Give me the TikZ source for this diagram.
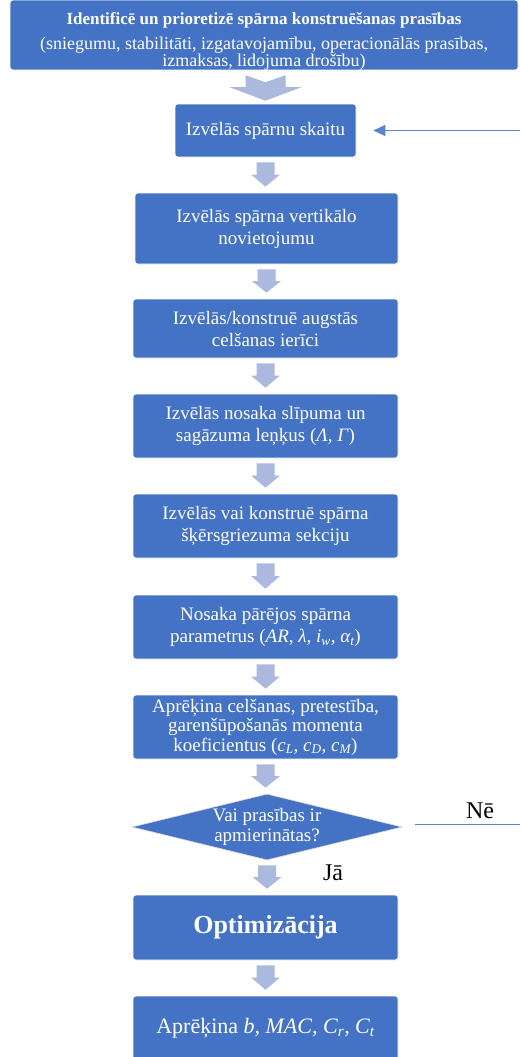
\documentclass[tikz,border=0pt]{standalone}
\usepackage{fontspec}
\setmainfont{Liberation Serif}
\usetikzlibrary{shapes.geometric,calc,arrows.meta}

\definecolor{boxblue}{HTML}{4472C4}
\definecolor{arrowblue}{HTML}{ABB9DE}
\definecolor{lineblue}{HTML}{5B84CC}

\tikzset{
  stepbox/.style={rectangle, rounded corners=3pt, fill=boxblue, draw=white,
    line width=0.6pt, text=white, align=center, inner sep=0pt,
    font=\fontsize{19}{22}\selectfont},
  decision/.style={diamond, fill=boxblue, draw=gray!30, line width=0.6pt, inner sep=0pt},
  dtext/.style={text=white, align=center, inner sep=0pt, font=\fontsize{19}{20}\selectfont},
  flowarrow/.style={fill=arrowblue},
  backline/.style={draw=lineblue, line width=1.1pt},
  answer/.style={text=black, inner sep=0pt, font=\fontsize{24}{26}\selectfont}
}

% block arrow between two stacked boxes
\newcommand{\flowstep}[2]{%
  \fill[flowarrow] let \p1=([yshift=-5pt]#1.south), \p2=([yshift=6pt]#2.north),
    \p3=($(\p1)!0.5!(\p2)$) in
    (\x1-9pt,\y1) -- (\x1+9pt,\y1) -- (\x1+9pt,\y3) -- (\x1+14.5pt,\y3) --
    (\x1,\y2) -- (\x1-14.5pt,\y3) -- (\x1-9pt,\y3) -- cycle;}

\begin{document}
\begin{tikzpicture}[x=1pt,y=-1pt]
\useasboundingbox (0,0) rectangle (520,1057);

\node[stepbox, minimum width=508pt, minimum height=64pt,
      font=\fontsize{18}{17}\selectfont] (top) at (264,35)
  {\rule{0pt}{24pt}{\fontsize{17}{17}\selectfont\bfseries Identificē un prioretizē spārna konstruēšanas prasības}\\[8pt]
   (sniegumu, stabilitāti, izgatavojamību, operacionālās prasības,\\
   izmaksas, lidojuma drošību)};

\node[stepbox, minimum width=181pt, minimum height=53pt] (b2) at (265.5,130.5)
  {Izvēlās spārnu skaitu};
\node[stepbox, minimum width=263pt, minimum height=71pt] (b3) at (266.5,228.5)
  {Izvēlās spārna vertikālo\\novietojumu};
\node[stepbox, minimum width=265pt, minimum height=59pt] (b4) at (265.5,328.5)
  {Izvēlās/konstruē augstās\\celšanas ierīci};
\node[stepbox, minimum width=265pt, minimum height=64pt] (b5) at (265.5,426)
  {Izvēlās nosaka slīpuma un\\sagāzuma leņķus (\textit{Λ, Γ})};
\node[stepbox, minimum width=265pt, minimum height=64pt] (b6) at (265.5,526)
  {Izvēlās vai konstruē spārna\\šķērsgriezuma sekciju};
\node[stepbox, minimum width=265pt, minimum height=64pt] (b7) at (265.5,627)
  {Nosaka pārējos spārna\\parametrus (\textit{AR, λ, i\textsubscript{w}, α\textsubscript{t}})};
\node[stepbox, minimum width=265pt, minimum height=64pt,
      font=\fontsize{19}{19.5}\selectfont] (b8) at (265.5,727)
  {Aprēķina celšanas, pretestība,\\garenšūpošanās momenta\\koeficientus (\textit{c\textsubscript{L}, c\textsubscript{D}, c\textsubscript{M}})};
\node[decision, minimum width=270pt, minimum height=66pt,
      label={[dtext]center:{Vai prasības ir\\apmierinātas?}}] (dia) at (267,827) {};
\node[stepbox, minimum width=265pt, minimum height=65pt,
      font=\fontsize{26}{28}\selectfont\bfseries] (opt) at (265.5,927.5) {Optimizācija};
\node[stepbox, minimum width=265pt, minimum height=64pt,
      font=\fontsize{22}{24}\selectfont] (last) at (265.5,1028)
  {Aprēķina \textit{b, MAC, C\textsubscript{r}, C\textsubscript{t}}};

% wide notched arrow under the heading box
\fill[flowarrow] let \p1=([yshift=-5pt]top.south), \p2=([yshift=3pt]b2.north) in
  (\x2-20pt,\y1) -- (\x2,\y1-7pt) -- (\x2+20pt,\y1) -- (\x2+20pt,\y1-12pt) --
  (\x2+36pt,\y1-12pt) -- (\x2,\y2) -- (\x2-36pt,\y1-12pt) -- (\x2-20pt,\y1-12pt) -- cycle;

\flowstep{b2}{b3}
\flowstep{b3}{b4}
\flowstep{b4}{b5}
\flowstep{b5}{b6}
\flowstep{b6}{b7}
\flowstep{b7}{b8}
\flowstep{b8}{dia}
\flowstep{dia}{opt}
\flowstep{opt}{last}

% feedback line entering the wing-count step
\coordinate (backin) at (520,130.5);
\draw[backline, -{Triangle[length=12pt,width=11pt]}] (backin) -- ([xshift=17pt]b2.east);

% "no" exit of the decision
\coordinate (noout) at (520,824.5);
\draw[backline] ([xshift=13pt,yshift=2.5pt]dia.east) -- (noout);

\node[answer] (no) at (480,811) {Nē};
\node[answer] (yes) at (333,873) {Jā};
\end{tikzpicture}
\end{document}
